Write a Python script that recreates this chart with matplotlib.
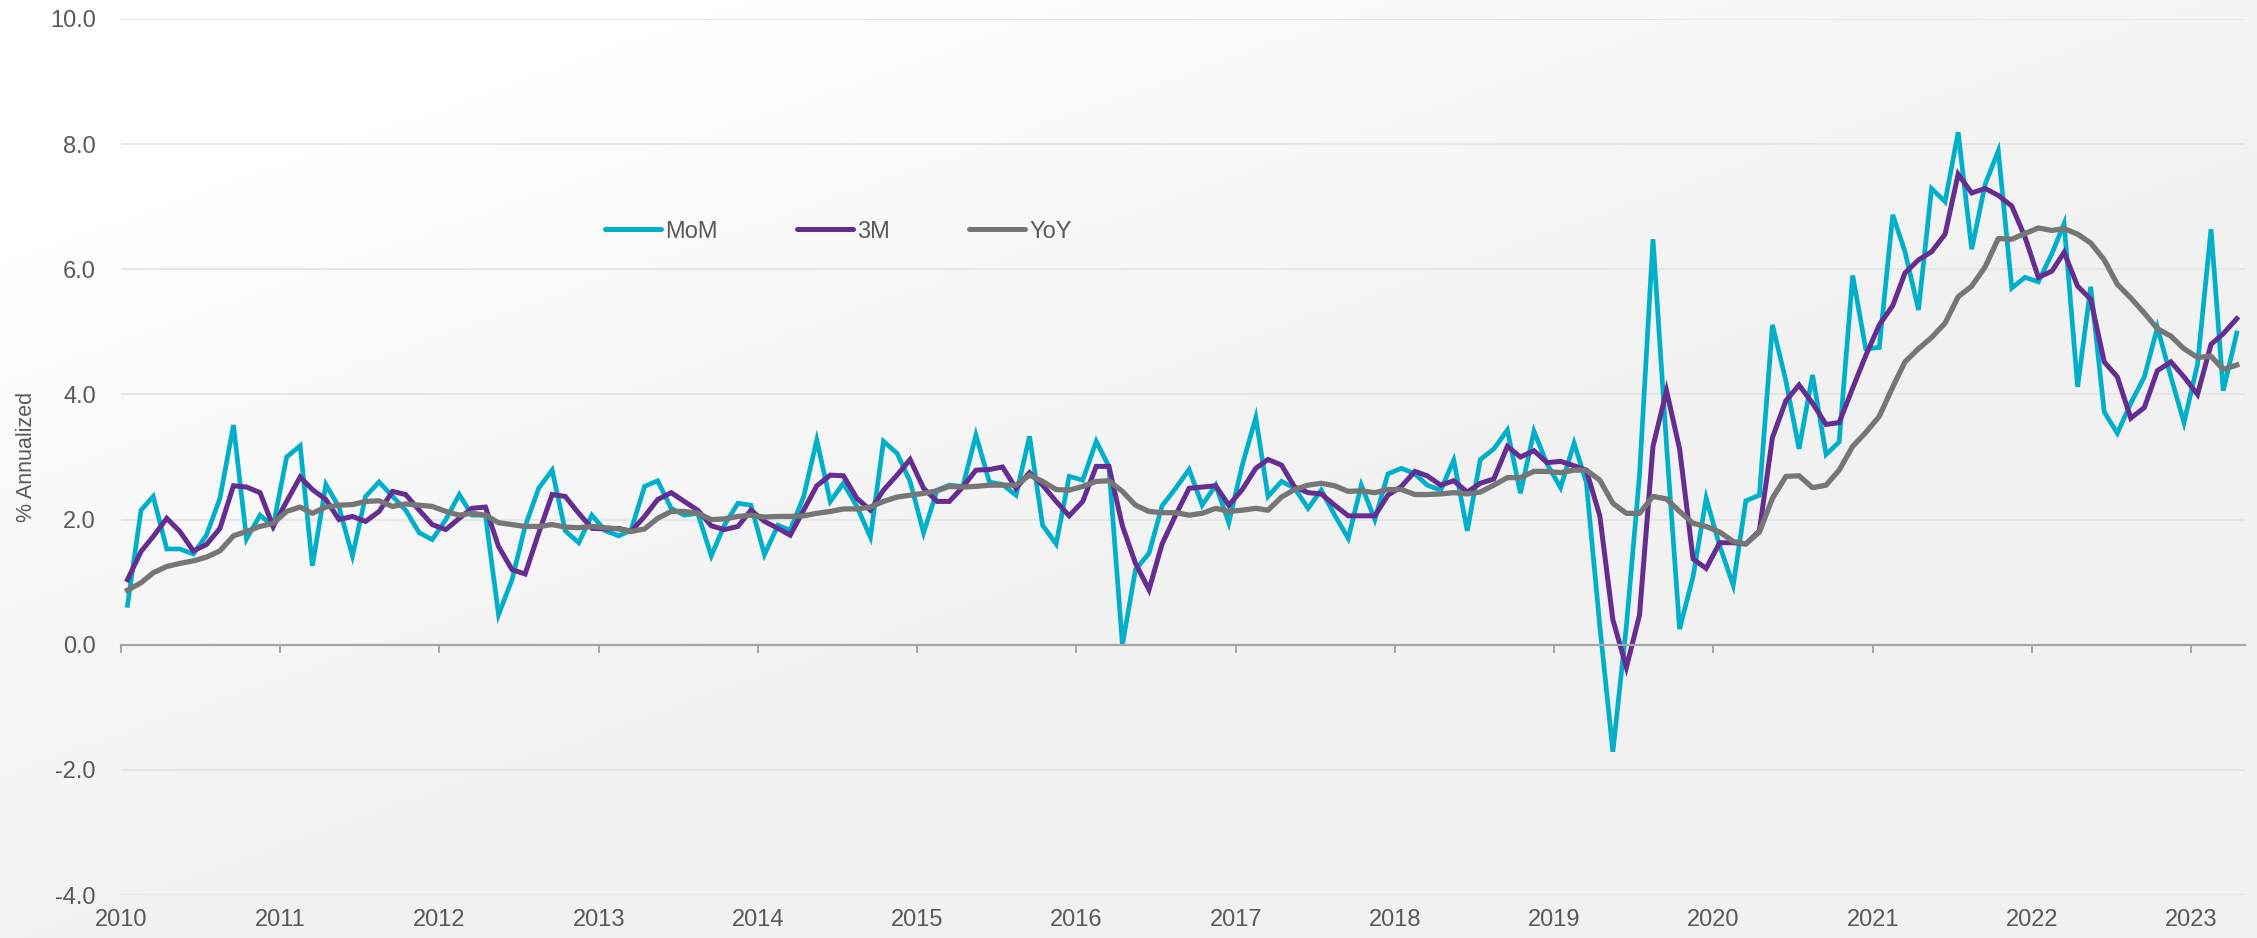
import matplotlib
matplotlib.use("Agg")
import matplotlib.pyplot as plt
import numpy as np
import pandas as pd

# monthly series, Jan 2010 - Apr 2023 (% annualized)
mom = [0.63, 2.15, 2.37, 1.53, 1.53, 1.45, 1.75, 2.34, 3.51, 1.69, 2.07, 1.89,
       3.0, 3.18, 1.26, 2.56, 2.2, 1.42, 2.37, 2.6, 2.37, 2.15, 1.79, 1.68,
       2.0, 2.4, 2.07, 2.07, 0.48, 1.04, 1.89, 2.5, 2.79, 1.82, 1.63, 2.07,
       1.82, 1.74, 1.83, 2.53, 2.62, 2.18, 2.07, 2.1, 1.42, 1.91, 2.26, 2.23,
       1.44, 1.91, 1.83, 2.37, 3.27, 2.29, 2.58, 2.21, 1.72, 3.25, 3.06, 2.61,
       1.79, 2.47, 2.55, 2.53, 3.35, 2.6, 2.56, 2.39, 3.33, 1.91, 1.61, 2.69,
       2.63, 3.25, 2.85, 0.0, 1.2, 1.46, 2.22, 2.5, 2.8, 2.23, 2.55, 1.95,
       2.87, 3.63, 2.37, 2.61, 2.5, 2.18, 2.47, 2.07, 1.7, 2.55, 2.0, 2.73,
       2.82, 2.73, 2.55, 2.47, 2.95, 1.82, 2.96, 3.13, 3.43, 2.42, 3.41, 2.89,
       2.51, 3.22, 2.6, 0.3, -1.71, 0.3, 2.7, 6.48, 3.2, 0.25, 1.09, 2.34,
       1.58, 0.95, 2.3, 2.39, 5.11, 4.21, 3.13, 4.31, 3.04, 3.24, 5.9, 4.73,
       4.75, 6.87, 6.28, 5.35, 7.29, 7.08, 8.19, 6.32, 7.36, 7.89, 5.7, 5.87,
       5.8, 6.25, 6.73, 4.12, 5.72, 3.72, 3.38, 3.86, 4.28, 5.07, 4.28, 3.55,
       4.48, 6.64, 4.06, 4.98]

three_m = [1.04, 1.49, 1.73, 2.02, 1.81, 1.5, 1.6, 1.86, 2.54, 2.52, 2.43, 1.89,
           2.29, 2.68, 2.48, 2.32, 2.0, 2.05, 1.97, 2.13, 2.45, 2.4, 2.15, 1.92,
           1.84, 2.02, 2.18, 2.2, 1.57, 1.2, 1.13, 1.78, 2.4, 2.37, 2.1, 1.86,
           1.85, 1.86, 1.81, 2.05, 2.32, 2.43, 2.29, 2.15, 1.9, 1.84, 1.89, 2.15,
           1.97, 1.86, 1.75, 2.15, 2.54, 2.71, 2.7, 2.34, 2.15, 2.47, 2.71, 2.96,
           2.5, 2.29, 2.29, 2.52, 2.79, 2.8, 2.84, 2.5, 2.75, 2.55, 2.29, 2.06,
           2.29, 2.85, 2.85, 1.9, 1.3, 0.88, 1.61, 2.07, 2.5, 2.52, 2.54, 2.23,
           2.48, 2.82, 2.96, 2.87, 2.52, 2.43, 2.41, 2.23, 2.06, 2.06, 2.06, 2.39,
           2.53, 2.77, 2.7, 2.55, 2.62, 2.44, 2.58, 2.65, 3.17, 3.0, 3.1, 2.91,
           2.93, 2.86, 2.79, 2.06, 0.4, -0.36, 0.47, 3.17, 4.06, 3.13, 1.37, 1.22,
           1.63, 1.63, 1.61, 1.82, 3.31, 3.9, 4.15, 3.86, 3.52, 3.55, 4.1, 4.62,
           5.11, 5.42, 5.94, 6.15, 6.28, 6.56, 7.52, 7.22, 7.29, 7.18, 7.01, 6.52,
           5.87, 5.97, 6.27, 5.73, 5.52, 4.52, 4.28, 3.62, 3.79, 4.38, 4.52, 4.28,
           4.0, 4.8, 4.97, 5.21]

yoy = [0.87, 0.99, 1.15, 1.25, 1.3, 1.34, 1.4, 1.5, 1.74, 1.81, 1.89, 1.94,
       2.13, 2.2, 2.1, 2.2, 2.23, 2.24, 2.29, 2.3, 2.21, 2.25, 2.23, 2.21,
       2.13, 2.07, 2.1, 2.07, 1.95, 1.92, 1.89, 1.89, 1.92, 1.88, 1.87, 1.89,
       1.87, 1.85, 1.81, 1.85, 2.02, 2.13, 2.13, 2.1, 2.0, 2.01, 2.05, 2.07,
       2.04, 2.05, 2.05, 2.06, 2.1, 2.13, 2.17, 2.17, 2.2, 2.29, 2.36, 2.39,
       2.42, 2.46, 2.53, 2.52, 2.53, 2.55, 2.55, 2.55, 2.71, 2.61, 2.48, 2.47,
       2.53, 2.61, 2.62, 2.45, 2.23, 2.13, 2.11, 2.11, 2.07, 2.1, 2.18, 2.13,
       2.15, 2.18, 2.15, 2.36, 2.48, 2.55, 2.58, 2.54, 2.45, 2.46, 2.43, 2.48,
       2.48, 2.4, 2.4, 2.41, 2.43, 2.41, 2.44, 2.55, 2.67, 2.67, 2.77, 2.77,
       2.75, 2.79, 2.79, 2.63, 2.26, 2.1, 2.1, 2.37, 2.33, 2.13, 1.94, 1.89,
       1.8, 1.65, 1.61, 1.8, 2.34, 2.69, 2.7, 2.51, 2.55, 2.79, 3.17, 3.39,
       3.65, 4.12, 4.52, 4.73, 4.91, 5.14, 5.56, 5.73, 6.04, 6.49, 6.48, 6.57,
       6.66, 6.62, 6.65, 6.56, 6.42, 6.15, 5.76, 5.54, 5.3, 5.05, 4.93, 4.73,
       4.59, 4.61, 4.4, 4.47]

months = pd.date_range("2010-01-01", "2023-04-01", freq="MS") + pd.Timedelta(days=15)
year_ticks = pd.date_range("2010-01-01", "2023-01-01", freq="YS")
year_labels = [str(d.year) for d in year_ticks]
y_ticks = [-4, -2, 0, 2, 4, 6, 8, 10]

plt.rcParams["font.family"] = ["Liberation Sans", "DejaVu Sans"]
TXT = "#595959"

fig = plt.figure(figsize=(22.57, 9.38), dpi=100)

# faint backdrop: white towards top-left, light grey elsewhere
bg = fig.add_axes([0, 0, 1, 1], zorder=0)
gx, gy = np.meshgrid(np.linspace(0, 1, 400), np.linspace(0, 1, 200))
d = np.clip((gx * 1.1 + gy * 1.3) - 0.35, 0, 1)
tone = 0.997 - 0.05 * d
bg.imshow(np.dstack([tone, tone, tone]), aspect="auto", origin="upper",
          extent=[0, 1, 0, 1])
bg.axis("off")

ax = fig.add_axes([0.0536, 0.0458, 0.9411, 0.934], zorder=1)
ax.set_facecolor("none")

ax.plot(months, mom, color="#00B0CA", lw=3.4, label="MoM", solid_joinstyle="miter")
ax.plot(months, three_m, color="#662D91", lw=3.6, label="3M", solid_joinstyle="miter")
ax.plot(months, yoy, color="#767676", lw=3.8, label="YoY")

ax.set_ylim(-4, 10)
ax.set_xlim(pd.Timestamp("2010-01-01"), pd.Timestamp("2023-05-05"))
ax.set_yticks(y_ticks)
ax.set_yticklabels([f"{v:.1f}" for v in y_ticks], fontsize=17, color=TXT)
ax.tick_params(axis="y", length=0, pad=18)
ax.grid(axis="y", color="#e6e6e6", lw=1.4)
ax.set_axisbelow(True)

for s in ["top", "right", "left"]:
    ax.spines[s].set_visible(False)
ax.spines["bottom"].set_position(("data", 0))
ax.spines["bottom"].set_color("#a6a6a6")
ax.spines["bottom"].set_linewidth(1.6)
ax.set_xticks(year_ticks)
ax.tick_params(axis="x", length=6, width=1.4, color="#a6a6a6", labelbottom=False)

sec = ax.secondary_xaxis("bottom")
sec.set_xticks(year_ticks)
sec.set_xticklabels(year_labels, fontsize=17, color=TXT)
sec.tick_params(length=0, pad=10)
sec.spines["bottom"].set_visible(False)

ax.set_ylabel("% Annualized", fontsize=15.5, color=TXT)
ax.yaxis.set_label_coords(-0.0395, 0.5)

leg = fig.legend(loc="center left", bbox_to_anchor=(0.2585, 0.753), ncol=3,
                 frameon=False, fontsize=17, handlelength=2.4, handletextpad=0.15,
                 columnspacing=3.35, labelcolor=TXT)
for h in leg.get_lines():
    h.set_linewidth(3.6)
    h.set_solid_capstyle("round")

fig.savefig("out.png", dpi=100)
